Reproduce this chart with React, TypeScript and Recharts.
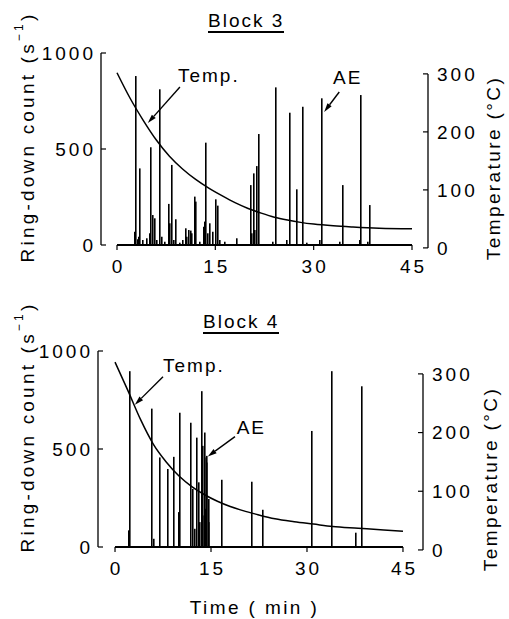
import React from "react"
import { ComposedChart, Bar, Line, XAxis, YAxis, ReferenceLine, ReferenceDot, Label } from "recharts"

const FONT = '"Liberation Sans", Arial, Helvetica, sans-serif'

const TIME_TICKS = [0, 15, 30, 45]
const COUNT_TICKS = [0, 500, 1000]
const TEMP_TICKS = [0, 100, 200, 300]

// Block 3 : AE ring-down count spikes (min, s^-1)
const AE3_TIME = [
  2.75, 2.9, 3.1, 3.4, 3.5, 3.9, 4.5, 5.0, 5.2, 5.4, 5.7, 6.0, 6.5, 6.8, 7.3, 7.9, 8.1, 8.3, 8.7, 9.0,
  9.6, 10.1, 10.5, 10.7, 11.0, 11.2, 11.4, 11.9, 12.05, 12.7, 13.2, 13.4, 13.6, 13.8, 14.2, 14.6, 15.0,
  15.4, 15.7, 16.5, 18.3, 20.4, 20.6, 20.8, 20.95, 21.3, 21.7, 23.8, 24.3, 25.9, 26.3, 27.4, 28.4, 28.9,
  31.0, 31.2, 34.0, 34.4, 37.05, 37.2, 38.3, 38.5,
]
const AE3_COUNT = [
  69, 880, 30, 43, 399, 26, 35, 61, 509, 156, 139, 26, 811, 43, 17, 214, 113, 417, 26, 134,
  12, 26, 87, 43, 78, 75, 61, 252, 226, 17, 95, 122, 533, 61, 113, 69, 238,
  205, 26, 17, 35, 312, 61, 373, 78, 411, 578, 17, 821, 26, 689, 290, 720, 12,
  26, 764, 17, 312, 26, 781, 17, 208,
]
// Block 3 : temperature (min, °C)
const TEMP3_TIME = [0, 2, 4, 6, 8, 10, 12, 14, 16, 18, 20, 22, 24, 26, 28, 30, 33, 36, 40, 45]
const TEMP3_VALUE = [302, 258, 220, 186, 158, 136, 118, 103, 90, 78, 68, 60, 53, 48, 44, 41, 38, 36, 34, 33]

// Block 4
const AE4_TIME = [
  2.2, 2.3, 5.8, 6.0, 7.0, 8.3, 9.2, 9.9, 10.2, 11.9, 12.2, 12.4, 12.8, 13.1, 13.3, 13.5, 13.7, 13.8,
  14.0, 14.1, 14.2, 14.3, 14.4, 14.6, 14.7, 16.7, 21.4, 23.1, 30.8, 33.9, 37.7, 38.5,
]
const AE4_COUNT = [
  85, 897, 706, 42, 457, 398, 460, 178, 685, 634, 296, 93, 558, 330, 127, 795, 161, 516,
  457, 584, 195, 465, 431, 245, 127, 343, 333, 190, 592, 897, 73, 820,
]
const TEMP4_TIME = [0, 2, 4, 6, 8, 10, 12, 14, 16, 18, 20, 22, 25, 28, 31, 34, 38, 42, 45]
const TEMP4_VALUE = [320, 272, 222, 180, 150, 126, 108, 94, 83, 74, 67, 61, 53, 48, 44, 40, 37, 34, 32]

type Row = { t: number; ae?: number; temp?: number }

function mergeRows(aeT: number[], aeV: number[], tT: number[], tV: number[]): Row[] {
  const rows: Row[] = []
  aeT.forEach((t, i) => rows.push({ t, ae: aeV[i] }))
  tT.forEach((t, i) => rows.push({ t, temp: tV[i] }))
  return rows.sort((a, b) => a.t - b.t)
}

const XTick = (props: any) => (
  <text x={props.x + 1.5} y={props.y} dy="0.71em" textAnchor="middle" fontSize={19} style={{ letterSpacing: "3px" }} fill="#000" fontFamily={FONT}>
    {props.payload.value}
  </text>
)

const YTick = (props: any) => (
  <text x={props.x} y={props.y} dy="0.36em" textAnchor={props.textAnchor} fontSize={19} style={{ letterSpacing: "3px" }} fill="#000" fontFamily={FONT}>
    {props.payload.value}
  </text>
)

const Spike = (pr: any) => {
  if (!pr.height || pr.height <= 0) return <g />
  return <rect x={Math.round(pr.x + pr.width / 2 - 0.8)} y={pr.y} width={1.6} height={pr.height} fill="#000" />
}

const Arrow = (p: any) => {
  const { x1, y1, x2, y2 } = p
  const dx = x2 - x1
  const dy = y2 - y1
  const len = Math.sqrt(dx * dx + dy * dy)
  const ux = dx / len
  const uy = dy / len
  const hl = 9
  const hw = 2.6
  const bx = x2 - ux * hl
  const by = y2 - uy * hl
  return (
    <g>
      <line x1={x1} y1={y1} x2={bx} y2={by} stroke="#000" strokeWidth={1.4} />
      <polygon points={`${x2},${y2} ${bx - uy * hw},${by + ux * hw} ${bx + uy * hw},${by - ux * hw}`} fill="#000" />
    </g>
  )
}

const note = (text: string, anchor: string) => (p: any) => (
  <text x={p.cx} y={p.cy} dy="0.36em" textAnchor={anchor} fontSize={19} style={{ letterSpacing: "2px" }} fill="#000" fontFamily={FONT}>
    {text}
  </text>
)

type Note = { text: string; anchor: string; tx: number; ty: number; from: [number, number]; to: [number, number] }

const NOTES3: Note[] = [
  { text: "Temp.", anchor: "start", tx: 9.3, ty: 885, from: [9.6, 823], to: [4.7, 635] },
  { text: "AE", anchor: "middle", tx: 35.2, ty: 875, from: [33.9, 797], to: [31.6, 693] },
]
const NOTES4: Note[] = [
  { text: "Temp.", anchor: "start", tx: 7.5, ty: 929, from: [7.5, 868], to: [3.1, 726] },
  { text: "AE", anchor: "middle", tx: 21.3, ty: 609, from: [18.75, 563], to: [14.5, 462] },
]

const LeftTitle = ({ viewBox, cxOff, cyOff }: any) => {
  const cx = viewBox.x + cxOff
  const cy = viewBox.y + viewBox.height / 2 + cyOff
  return (
    <text x={cx} y={cy} transform={`rotate(-90 ${cx} ${cy})`} textAnchor="middle" dominantBaseline="central" fontSize={19} style={{ letterSpacing: "3.2px" }} fill="#000" fontFamily={FONT}>
      Ring-down count (s<tspan fontSize={12} dy={-8}>−1</tspan>
      <tspan dy={8}>)</tspan>
    </text>
  )
}

const RightTitle = ({ viewBox, cxOff, cyOff }: any) => {
  const cx = viewBox.x + cxOff
  const cy = viewBox.y + viewBox.height / 2 + cyOff
  return (
    <text x={cx} y={cy} transform={`rotate(-90 ${cx} ${cy})`} textAnchor="middle" dominantBaseline="central" fontSize={19} style={{ letterSpacing: "2.4px" }} fill="#000" fontFamily={FONT}>
      Temperature (°C)
    </text>
  )
}

type PanelProps = {
  rows: Row[]
  notes: Note[]
  height: number
  margin: { top: number; right: number; left: number; bottom: number }
  leftWidth: number
  rightWidth: number
  xAxisHeight: number
  xDomain: [number, number]
  tempDomain: [number, number]
  leftTitle: [number, number]
  rightTitle: [number, number]
  timeLabel?: boolean
}

function Panel(p: PanelProps) {
  return (
    <ComposedChart width={509} height={p.height} data={p.rows} margin={p.margin}>
      <XAxis
        dataKey="t"
        type="number"
        domain={p.xDomain}
        allowDataOverflow
        ticks={TIME_TICKS}
        axisLine={false}
        tickLine={{ stroke: "#000", strokeWidth: 1.2 }}
        tickSize={5}
        tickMargin={10}
        tick={<XTick />}
        height={p.xAxisHeight}
      >
        {p.timeLabel && (
          <Label
            position="insideBottom"
            offset={2}
            content={(lp: any) => (
              <text
                x={lp.viewBox.x + lp.viewBox.width / 2 - 6}
                y={lp.viewBox.y + lp.viewBox.height - 3}
                textAnchor="middle"
                fontSize={19}
                style={{ letterSpacing: "2.4px" }}
                fill="#000"
                fontFamily={FONT}
              >
                Time ( min )
              </text>
            )}
          />
        )}
      </XAxis>
      <YAxis
        yAxisId="left"
        domain={[0, 1000]}
        ticks={COUNT_TICKS}
        width={p.leftWidth}
        axisLine={{ stroke: "#000", strokeWidth: 1.3 }}
        tickLine={{ stroke: "#000", strokeWidth: 1.2 }}
        tickSize={-5}
        tickMargin={10}
        tick={<YTick />}
      >
        <Label content={(lp: any) => <LeftTitle viewBox={lp.viewBox} cxOff={p.leftTitle[0]} cyOff={p.leftTitle[1]} />} />
      </YAxis>
      <YAxis
        yAxisId="right"
        orientation="right"
        domain={p.tempDomain}
        allowDataOverflow
        ticks={TEMP_TICKS}
        width={p.rightWidth}
        axisLine={false}
        tickLine={{ stroke: "#000", strokeWidth: 1.2 }}
        tickSize={-5}
        tickMargin={14}
        tick={<YTick />}
      >
        <Label content={(lp: any) => <RightTitle viewBox={lp.viewBox} cxOff={p.rightTitle[0]} cyOff={p.rightTitle[1]} />} />
      </YAxis>
      <ReferenceLine
        yAxisId="right"
        ifOverflow="visible"
        segment={[
          { x: p.xDomain[1], y: 0 },
          { x: p.xDomain[1], y: 300 },
        ]}
        stroke="#000"
        strokeWidth={1.3}
      />
      <Bar yAxisId="left" dataKey="ae" fill="#000" barSize={1.6} shape={Spike} isAnimationActive={false} />
      <ReferenceLine
        yAxisId="left"
        segment={[
          { x: 0, y: 0 },
          { x: 45, y: 0 },
        ]}
        stroke="#000"
        strokeWidth={1.8}
      />
      <Line
        yAxisId="right"
        dataKey="temp"
        type="monotone"
        stroke="#000"
        strokeWidth={1.5}
        dot={false}
        connectNulls
        isAnimationActive={false}
      />
      {p.notes.map((n) => (
        <ReferenceLine
          key={n.text + "-arrow"}
          yAxisId="left"
          segment={[
            { x: n.from[0], y: n.from[1] },
            { x: n.to[0], y: n.to[1] },
          ]}
          shape={Arrow}
        />
      ))}
      {p.notes.map((n) => (
        <ReferenceDot key={n.text + "-text"} yAxisId="left" x={n.tx} y={n.ty} r={1} shape={note(n.text, n.anchor)} />
      ))}
    </ComposedChart>
  )
}

const titleStyle: React.CSSProperties = {
  position: "absolute",
  fontSize: 19,
  lineHeight: "19px",
  letterSpacing: 2,
  borderBottom: "2px solid #000",
  paddingBottom: 1,
  fontFamily: FONT,
  color: "#000",
}

export default function App() {
  const rows3 = mergeRows(AE3_TIME, AE3_COUNT, TEMP3_TIME, TEMP3_VALUE)
  const rows4 = mergeRows(AE4_TIME, AE4_COUNT, TEMP4_TIME, TEMP4_VALUE)
  return (
    <div style={{ position: "absolute", left: 0, top: 0, width: 509, height: 619, background: "#fff", fontFamily: FONT }}>
      <div style={{ ...titleStyle, left: 208, top: 11 }}>Block 3</div>
      <div style={{ ...titleStyle, left: 203, top: 312 }}>Block 4</div>
      <div style={{ position: "absolute", left: 0, top: 0 }}>
        <Panel
          rows={rows3}
          notes={NOTES3}
          height={300}
          margin={{ top: 53, right: 0, left: 0, bottom: 25 }}
          leftWidth={101}
          rightWidth={81}
          xAxisHeight={30}
          xDomain={[-2.44, 47.44]}
          tempDomain={[5, 336]}
          leftTitle={[27, -12]}
          rightTitle={[65, 19]}
        />
      </div>
      <div style={{ position: "absolute", left: 0, top: 300 }}>
        <Panel
          rows={rows4}
          notes={NOTES4}
          height={319}
          margin={{ top: 51, right: 0, left: 0, bottom: 2 }}
          leftWidth={98}
          rightWidth={86}
          xAxisHeight={70}
          xDomain={[-2.66, 48.13]}
          tempDomain={[5, 339]}
          leftTitle={[27, -22]}
          rightTitle={[67, 30]}
          timeLabel
        />
      </div>
    </div>
  )
}
